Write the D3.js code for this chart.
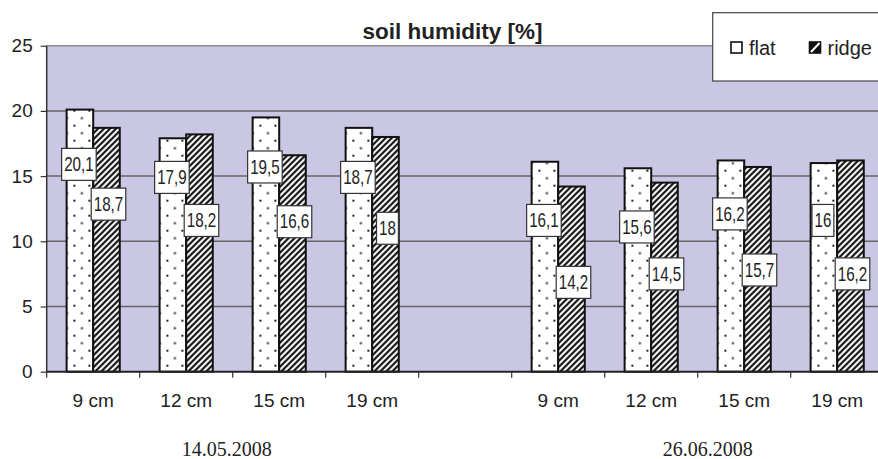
<!DOCTYPE html>
<html><head><meta charset="utf-8">
<script src="https://cdn.jsdelivr.net/npm/d3@7"></script>
<style>
body{margin:0;background:#fff;}
svg{display:block;}
</style></head>
<body>
<svg id="chart" width="878" height="459"></svg>
<script>
// ---- data ----
const categories = ["9 cm","12 cm","15 cm","19 cm","","9 cm","12 cm","15 cm","19 cm"];
const flatValues  = [20.1, 17.9, 19.5, 18.7, null, 16.1, 15.6, 16.2, 16.0];
const ridgeValues = [18.7, 18.2, 16.6, 18.0, null, 14.2, 14.5, 15.7, 16.2];
const flatLabels  = ["20,1","17,9","19,5","18,7","","16,1","15,6","16,2","16"];
const ridgeLabels = ["18,7","18,2","16,6","18","","14,2","14,5","15,7","16,2"];
// value level at which each data-label box was placed
const flatLabelAt  = [15.9, 14.9, 15.7, 14.9, null, 11.6, 11.1, 12.1, 11.6];
const ridgeLabelAt = [12.85, 11.6, 11.5, 11.0, null, 6.85, 7.5, 7.8, 7.5];
const yTicks = [0, 5, 10, 15, 20, 25];
const dates = ["14.05.2008", "26.06.2008"];
const seriesNames = ["flat", "ridge"];
const title = "soil humidity [%]";

// ---- layout ----
const svg = d3.select("#chart");
const L = 46.7, R = 883.7, T = 45.7, B = 371.7;
const sans = "'Liberation Sans', Arial, sans-serif";

const x0 = d3.scaleBand().domain(d3.range(categories.length)).range([L, R]).paddingInner(0).paddingOuter(0);
const x1 = d3.scaleBand().domain(seriesNames).range([0, x0.bandwidth()]).paddingInner(0).paddingOuter(0.75);
const y = d3.scaleLinear().domain([0, 25]).range([B, T]);

// patterns
const defs = svg.append("defs");
const dots = defs.append("pattern").attr("id","dots").attr("patternUnits","userSpaceOnUse")
  .attr("width",15).attr("height",15).attr("x",L+25).attr("y",T+4);
dots.append("rect").attr("width",15).attr("height",15).attr("fill","#fff");
dots.append("rect").attr("x",0).attr("y",0).attr("width",2).attr("height",2).attr("fill","#222");
dots.append("rect").attr("x",7.5).attr("y",7.5).attr("width",2).attr("height",2).attr("fill","#222");

const hatch = defs.append("pattern").attr("id","hatch").attr("patternUnits","userSpaceOnUse")
  .attr("width",6).attr("height",6);
hatch.append("rect").attr("width",6).attr("height",6).attr("fill","#fff");
hatch.append("path").attr("d","M-1,7 L7,-1 M-1,1 L1,-1 M5,7 L7,5").attr("stroke","#111").attr("stroke-width",2.2);

// plot background
svg.append("rect").attr("x",L).attr("y",T).attr("width",R-L).attr("height",B-T).attr("fill","#CAC7E4");
svg.append("line").attr("x1",L).attr("x2",R).attr("y1",T).attr("y2",T).attr("stroke","#8a8a8a").attr("stroke-width",1.5);

// gridlines
svg.append("g").selectAll("line").data(yTicks.filter(d => d > 0 && d < 25)).join("line")
  .attr("x1",L).attr("x2",R).attr("y1",d=>y(d)).attr("y2",d=>y(d))
  .attr("stroke","#666").attr("stroke-width",1.5);

// bars
const groups = svg.append("g").selectAll("g").data(d3.range(categories.length).filter(i => flatValues[i] != null)).join("g")
  .attr("transform", i => `translate(${x0(i)},0)`);
groups.append("rect").attr("x", x1("flat")).attr("width", x1.bandwidth())
  .attr("y", i => y(flatValues[i])).attr("height", i => y(0) - y(flatValues[i]))
  .attr("fill","url(#dots)").attr("stroke","#111").attr("stroke-width",2);
groups.append("rect").attr("x", x1("ridge")).attr("width", x1.bandwidth())
  .attr("y", i => y(ridgeValues[i])).attr("height", i => y(0) - y(ridgeValues[i]))
  .attr("fill","url(#hatch)").attr("stroke","#111").attr("stroke-width",2);

// axes
const yAxis = svg.append("g").attr("transform",`translate(${L},0)`)
  .call(d3.axisLeft(y).tickValues(yTicks).tickSize(6).tickPadding(8).tickFormat(d3.format("d")));
yAxis.select(".domain").remove();
yAxis.selectAll(".tick line").attr("stroke","#333").attr("stroke-width",1.2);
yAxis.selectAll("text").attr("font-family",sans).attr("font-size",19).attr("fill","#222");

svg.append("line").attr("x1",L).attr("x2",L).attr("y1",T).attr("y2",B).attr("stroke","#333").attr("stroke-width",1.5);
svg.append("line").attr("x1",L).attr("x2",R).attr("y1",B).attr("y2",B).attr("stroke","#222").attr("stroke-width",2);

// boundary ticks
const bounds = d3.range(categories.length).map(i => x0(i)).concat([x0.range()[1]]);
svg.append("g").selectAll("line").data(bounds).join("line")
  .attr("x1",d=>d).attr("x2",d=>d).attr("y1",B).attr("y2",B+6).attr("stroke","#333").attr("stroke-width",1.2);

const xAxis = svg.append("g").attr("transform",`translate(0,${B})`)
  .call(d3.axisBottom(x0).tickSize(0).tickPadding(22).tickFormat(i => categories[i]));
xAxis.select(".domain").remove();
xAxis.selectAll("text").attr("font-family",sans).attr("font-size",19).attr("fill","#222");

// data labels (narrow face emulated by horizontal compression)
function addLabel(cx, cy, txt) {
  const g = svg.append("g").attr("transform",`translate(${cx},${cy})`);
  const t = g.append("text").attr("x",0).attr("y",0).attr("text-anchor","middle").attr("dominant-baseline","central")
    .attr("font-family",sans).attr("font-size",20).attr("fill","#222").attr("transform","scale(0.76,1)").text(txt);
  const w = t.node().getComputedTextLength() * 0.76 + 5;
  g.insert("rect","text").attr("x",-w/2).attr("y",-16).attr("width",w).attr("height",32)
    .attr("fill","#fff").attr("stroke","#333").attr("stroke-width",1.2);
}
d3.range(categories.length).forEach(i => {
  if (flatValues[i] == null) return;
  addLabel(x0(i) + x1("flat") + x1.bandwidth()/2 - 1, y(flatLabelAt[i]), flatLabels[i]);
  addLabel(x0(i) + x1("ridge") + x1.bandwidth()/2 + 2, y(ridgeLabelAt[i]), ridgeLabels[i]);
});

// title
svg.append("text").attr("x",452.5).attr("y",39).attr("text-anchor","middle")
  .attr("font-family",sans).attr("font-weight","bold").attr("font-size",22.5)
  .attr("fill","#222").text(title);

// legend
svg.append("rect").attr("x",712.7).attr("y",12.7).attr("width",190).attr("height",68.3)
  .attr("fill","#fff").attr("stroke","#444").attr("stroke-width",1.2);
const lg = svg.append("g");
lg.append("rect").attr("x",731).attr("y",42).attr("width",11).attr("height",11)
  .attr("fill","#fff").attr("stroke","#111").attr("stroke-width",1.6);
lg.append("text").attr("x",749).attr("y",55).attr("font-family",sans)
  .attr("font-size",20).attr("fill","#222").text(seriesNames[0]);
lg.append("rect").attr("x",809.5).attr("y",42).attr("width",11).attr("height",11)
  .attr("fill","#111").attr("stroke","#111").attr("stroke-width",1.6);
lg.append("path").attr("d","M811,52 L819.5,43").attr("stroke","#fff").attr("stroke-width",2);
lg.append("text").attr("x",827.5).attr("y",55).attr("font-family",sans)
  .attr("font-size",20).attr("fill","#222").text(seriesNames[1]);

// dates
svg.append("g").selectAll("text").data(dates).join("text")
  .attr("x",(d,i)=>[x0(2) - 6, (x0(5) + x0.range()[1]) / 2 + 10][i]).attr("y",456).attr("text-anchor","middle")
  .attr("font-family","'Liberation Serif','Times New Roman',serif").attr("font-size",20).attr("fill","#222").text(d=>d);
</script>
</body></html>
